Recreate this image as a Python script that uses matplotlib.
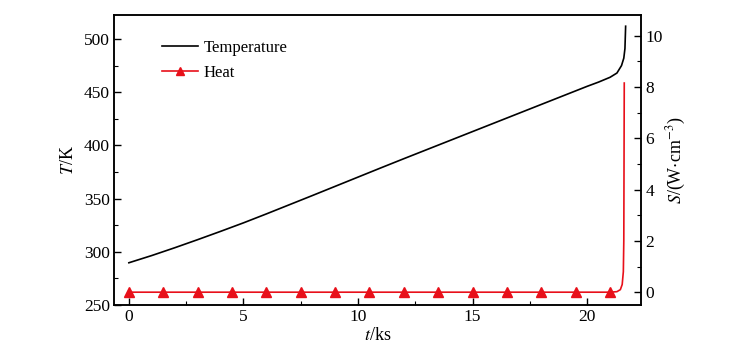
import matplotlib
matplotlib.use("Agg")
import matplotlib.pyplot as plt
from matplotlib.ticker import MultipleLocator

plt.rcParams['font.family'] = ['Liberation Serif', 'DejaVu Serif']
plt.rcParams['mathtext.fontset'] = 'stix'

# Temperature curve (t in ks, T in K)
temp_t = [0, 1, 2, 3, 4, 5, 6, 7, 8, 9, 10, 11, 12, 13, 14, 15, 16, 17, 18, 19,
          20, 20.5, 21, 21.3, 21.5, 21.6, 21.65, 21.68]
temp_T = [289.7, 296.5, 303.8, 311.4, 319.2, 327.2, 335.6, 344.2, 352.8, 361.5,
          370.2, 378.9, 387.5, 396.0, 404.5, 413.0, 421.5, 430.0, 438.5, 447.0,
          455.5, 459.5, 464.0, 468.0, 475.0, 482.0, 491.0, 512.0]

# Heat source curve (t in ks, S in W/cm^3)
heat_t = [0, 1.5, 3, 4.5, 6, 7.5, 9, 10.5, 12, 13.5, 15, 16.5, 18, 19.5, 21,
          21.3, 21.45, 21.53, 21.58, 21.6, 21.61, 21.62]
heat_S = [0, 0, 0, 0, 0, 0, 0, 0, 0, 0, 0, 0, 0, 0, 0,
          0.02, 0.1, 0.3, 0.8, 2.0, 5.0, 8.15]
n_markers = 15

fig = plt.figure(figsize=(7.43, 3.58), dpi=100)
ax = fig.add_axes([0.1534, 0.148, 0.7093, 0.81])
ax2 = ax.twinx()

l1, = ax.plot(temp_t, temp_T, color='black', lw=1.2, label='Temperature')
l2, = ax2.plot(heat_t, heat_S, color='#e8101a', lw=1.2, marker='^', ms=6.5,
               markevery=list(range(n_markers)), label='Heat')

ax.set_xlim(-0.65, 22.35)
ax.set_ylim(250, 522.5)
ax2.set_ylim(-0.5, 10.8)

ax.xaxis.set_major_locator(MultipleLocator(5))
ax.xaxis.set_minor_locator(MultipleLocator(2.5))
ax.yaxis.set_major_locator(MultipleLocator(50))
ax.yaxis.set_minor_locator(MultipleLocator(25))
ax2.yaxis.set_major_locator(MultipleLocator(2))
ax2.yaxis.set_minor_locator(MultipleLocator(1))

for a in (ax, ax2):
    a.tick_params(which='major', direction='in', length=5, width=1, labelsize=12.5, pad=3)
    a.tick_params(which='minor', direction='in', length=3, width=0.8)
    for s in a.spines.values():
        s.set_linewidth(1.1)
ax.tick_params(axis='x', top=False, which='both')
ax.tick_params(axis='y', right=False, which='both')

ax.set_xlabel(r'$t$/ks', fontsize=13, labelpad=1)
ax.set_ylabel(r'$T$/K', fontsize=13, labelpad=5)
ax2.set_ylabel(r'$S$/(W$\cdot$cm$^{-3}$)', fontsize=13, labelpad=2)

ax.legend([l1, l2], ['Temperature', 'Heat'], loc='upper left', frameon=False,
          fontsize=12, bbox_to_anchor=(0.062, 0.965), handlelength=2.2,
          handletextpad=0.3, labelspacing=0.5, markerscale=0.9)

fig.savefig('out.png', dpi=100)
